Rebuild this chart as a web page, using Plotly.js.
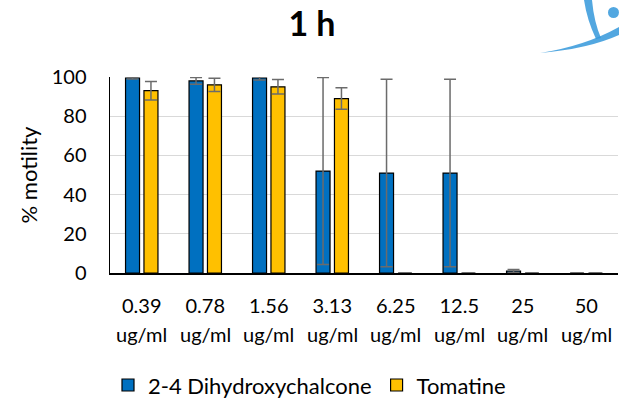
<!DOCTYPE html>
<html>
<head>
<meta charset="utf-8">
<script src="https://cdn.plot.ly/plotly-3.0.1.min.js"></script>
<style>html,body{margin:0;padding:0;background:#fff;}#chart{width:619px;height:400px;}</style>
</head>
<body>
<div id="chart"></div>
<script>
// ---- data ----
const categories = ['0.39', '0.78', '1.56', '3.13', '6.25', '12.5', '25', '50'];
const unitLabel = 'ug/ml';
const dhcName = '2-4 Dihydroxychalcone';
const dhcValues = [99.5, 98, 99.5, 52, 51, 51, 1, 0];
const dhcErrors = [0.5, 1.7, 1, 47.7, 47.8, 47.8, 0.8, null];
const tomName = 'Tomatine';
const tomValues = [93, 96, 95, 89, 0, 0, 0, 0];
const tomErrors = [4.7, 3.4, 3.7, 5.5, null, null, null, null];
const yTicks = [0, 20, 40, 60, 80, 100];

// full category keys (non-numeric so the axis stays categorical)
const catKeys = categories.map(c => c + ' ' + unitLabel);

const FONT = 'Lato, "Open Sans", sans-serif';
const W = 619, H = 400;
const M = {l: 110, r: 1, t: 77, b: 127};

const errStyle = {type: 'data', visible: true, color: '#6b6b6b', thickness: 1.5, width: 6};

const traces = [
  {type: 'bar', name: dhcName, x: catKeys, y: dhcValues,
   marker: {color: '#0070C0', line: {color: '#000', width: 1.2}},
   error_y: Object.assign({array: dhcErrors}, errStyle)},
  {type: 'bar', name: tomName, x: catKeys, y: tomValues,
   marker: {color: '#FFC000', line: {color: '#000', width: 1.2}},
   error_y: Object.assign({array: tomErrors}, errStyle)}
];

// pixel -> paper helper for the decorative watermark
const pw = W - M.l - M.r, ph = H - M.t - M.b;
function P(px, py) { return ((px - M.l) / pw).toFixed(4) + ',' + ((H - M.b - py) / ph).toFixed(4); }
const wmColor = 'rgba(52,152,219,0.85)';
const shapes = [
  {type: 'path', xref: 'paper', yref: 'paper', fillcolor: wmColor, line: {width: 0},
   path: 'M' + P(540, 53) + ' Q' + P(585, 46) + ' ' + P(619, 27) + ' L' + P(619, 35) + ' Q' + P(588, 49) + ' ' + P(540, 53) + ' Z'},
  {type: 'path', xref: 'paper', yref: 'paper', fillcolor: wmColor, line: {width: 0},
   path: 'M' + P(584, 0) + ' L' + P(592, 0) + ' Q' + P(594, 22) + ' ' + P(601, 38) + ' L' + P(596, 39) + ' Q' + P(587, 20) + ' ' + P(584, 0) + ' Z'},
  {type: 'circle', xref: 'paper', yref: 'paper', fillcolor: wmColor, line: {width: 0},
   x0: (608 - M.l) / pw, x1: (619 - M.l) / pw, y0: (H - M.b - 18) / ph, y1: (H - M.b - 7) / ph}
];

const annotations = catKeys.map(c => ({
  x: c, xref: 'x', y: 0, yref: 'paper', yanchor: 'top', yshift: -47,
  text: unitLabel, showarrow: false, font: {family: FONT, size: 20, color: '#000'}
}));

const layout = {
  width: W, height: H,
  margin: Object.assign({autoexpand: false}, M),
  paper_bgcolor: '#fff', plot_bgcolor: '#fff',
  font: {family: FONT, color: '#000'},
  title: {text: '<b>1 h</b>', font: {family: FONT, size: 34, color: '#000'},
          xref: 'container', x: 0.504, xanchor: 'center', yref: 'container', y: 0.94, yanchor: 'middle'},
  barmode: 'group', bargap: 0.42, bargroupgap: 0.24,
  xaxis: {type: 'category', categoryorder: 'array', categoryarray: catKeys,
          tickmode: 'array', tickvals: catKeys, ticktext: categories,
          showline: true, linecolor: '#000', linewidth: 1.5,
          ticks: '', showgrid: false, zeroline: false, tickangle: 0,
          tickfont: {family: FONT, size: 20, color: '#000'},
          ticklabelstandoff: 14, fixedrange: true},
  yaxis: {range: [0, 100], tickvals: yTicks, showline: true, linecolor: '#000', linewidth: 1.5,
          ticks: '', showgrid: true, gridcolor: '#d9d9d9', gridwidth: 1.3, zeroline: false,
          tickfont: {family: FONT, size: 20, color: '#000'}, ticklabelstandoff: 18,
          title: {text: '% motility', font: {family: FONT, size: 22, color: '#000'}, standoff: 8}, fixedrange: true},
  showlegend: true,
  legend: {orientation: 'h', xref: 'container', x: 0.5, xanchor: 'center',
           yref: 'container', y: 0.037, yanchor: 'middle',
           font: {family: FONT, size: 22, color: '#000'}, itemwidth: 30, traceorder: 'normal'},
  annotations: annotations,
  shapes: shapes
};

Plotly.newPlot('chart', traces, layout, {displayModeBar: false, staticPlot: true});
</script>
</body>
</html>
